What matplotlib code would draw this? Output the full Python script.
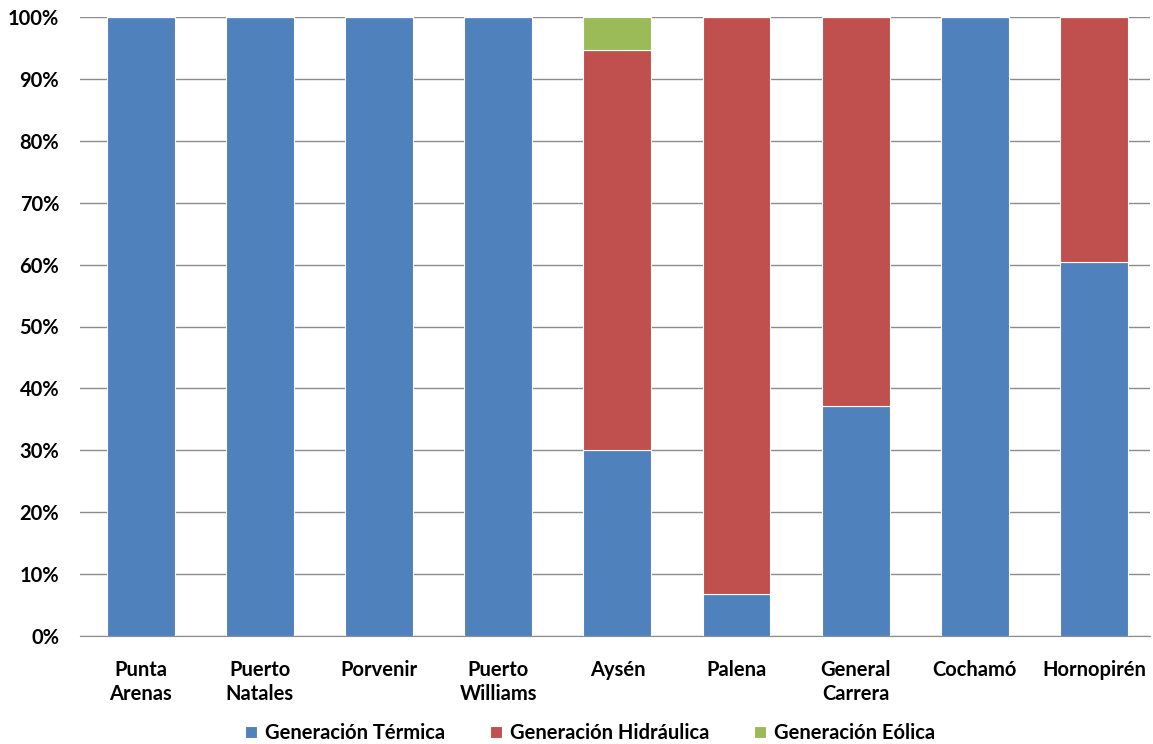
import matplotlib
matplotlib.use("Agg")
import matplotlib.pyplot as plt
from matplotlib.ticker import FixedLocator

plt.rcParams['font.family'] = ['Lato', 'DejaVu Sans']

categories = ["Punta\nArenas", "Puerto\nNatales", "Porvenir", "Puerto\nWilliams",
              "Aysén", "Palena", "General\nCarrera", "Cochamó", "Hornopirén"]
termica = [100, 100, 100, 100, 30.0, 6.8, 37.2, 100, 60.4]
hidraulica = [0, 0, 0, 0, 64.6, 93.2, 62.8, 0, 39.6]
eolica = [0, 0, 0, 0, 5.4, 0, 0, 0, 0]
series_names = ["Generación Térmica", "Generación Hidráulica", "Generación Eólica"]
colors = ["#4F81BD", "#C0504D", "#9BBB59"]
yticks = [0, 10, 20, 30, 40, 50, 60, 70, 80, 90, 100]

FS = 14.5
fig = plt.figure(figsize=(11.53, 7.44), dpi=100)
ax = fig.add_axes([80/1153, 1 - 636/744, (1150-80)/1153, (636-17)/744])

x = list(range(len(categories)))
w = 0.57
bottom2 = termica
bottom3 = [a + b for a, b in zip(termica, hidraulica)]
for vals, bot, c, name in [(termica, None, colors[0], series_names[0]),
                           (hidraulica, bottom2, colors[1], series_names[1]),
                           (eolica, bottom3, colors[2], series_names[2])]:
    ax.bar(x, vals, w, bottom=bot, color=c, edgecolor="white", linewidth=0.8,
           label=name, zorder=3)

ax.set_xlim(-0.51, 8.47)
ax.set_ylim(0, 100)
ax.yaxis.set_major_locator(FixedLocator(yticks))
ax.set_yticklabels([f"{t}%" for t in yticks])
ax.set_xticks(x)
ax.set_xticklabels(categories, fontweight="bold", fontsize=FS, linespacing=1.3)
for lbl in ax.get_yticklabels():
    lbl.set_fontweight("bold")
    lbl.set_fontsize(FS)
ax.grid(axis="y", color="#8C8C8C", linewidth=1.0, zorder=0)
for s in ["top", "right", "left"]:
    ax.spines[s].set_visible(False)
ax.spines["bottom"].set_color("#8C8C8C")
ax.tick_params(axis="both", length=0)
ax.tick_params(axis="x", pad=17)
ax.tick_params(axis="y", pad=15)

leg = fig.legend(loc="center", bbox_to_anchor=(590/1153, 1 - 733/744), ncol=3,
                 frameon=False, prop={"weight": "bold", "size": FS},
                 handlelength=0.6, handleheight=0.6, handletextpad=0.4,
                 columnspacing=2.2)

fig.savefig("out.png", dpi=100)
